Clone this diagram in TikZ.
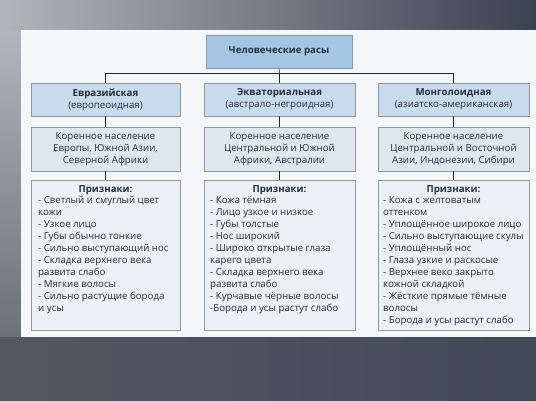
\documentclass[tikz,border=0pt]{standalone}
\usepackage{fontspec}
\setmainfont{Open Sans}
\definecolor{bgL}{HTML}{B2B5BA}
\definecolor{bgM}{HTML}{8C9096}
\definecolor{bgR}{HTML}{3A4150}
\definecolor{btL}{HTML}{535862}
\definecolor{btM}{HTML}{6F747C}
\definecolor{btR}{HTML}{424958}
\definecolor{lsB}{HTML}{6C7077}
\definecolor{panel}{HTML}{F6F7F8}
\definecolor{topfill}{HTML}{A3C6E5}
\definecolor{rowone}{HTML}{C8DBEC}
\definecolor{rowtwo}{HTML}{DEE6EE}
\definecolor{rowthree}{HTML}{EDF0F4}
\definecolor{boxline}{HTML}{8E98A3}
\definecolor{txtcol}{HTML}{27303D}
\begin{document}
\begin{tikzpicture}[x=1pt,y=-1pt,
  box/.style={draw=boxline, line width=0.8pt, inner sep=0pt, align=center,
    text=txtcol, font=\fontsize{9.7}{12.2}\selectfont},
  lst/.style={inner sep=0pt, align=left, text=txtcol, anchor=north west,
    font=\fontsize{9.7}{12}\selectfont},
  head/.style={inner sep=0pt, text=txtcol, font=\fontsize{9.7}{12}\selectfont\bfseries},
  con/.style={draw=black!85, line width=0.6pt}]
\useasboundingbox (0,0) rectangle (536,400);
\shade[left color=bgL, middle color=bgM, right color=bgR] (0,0) rectangle (536,30);
\shade[top color=bgL, bottom color=lsB] (0,30) rectangle (21,337);
\shade[left color=btL, middle color=btM, right color=btR] (0,337) rectangle (536,400);
\fill[panel] (21,30) rectangle (536,337);

\node[box, fill=topfill, minimum width=146pt, minimum height=33pt] (top) at (279,51.5) {\bfseries Человеческие расы};

\node[box, fill=rowone, minimum width=149pt, minimum height=33pt] (r1a) at (105.5,99.5) {\bfseries Евразийская\\(европеоидная)};
\node[box, fill=rowone, minimum width=151pt, minimum height=33pt] (r1b) at (279.5,99.5) {\bfseries Экваториальная\\(австрало-негроидная)};
\node[box, fill=rowone, minimum width=151pt, minimum height=33pt] (r1c) at (453.5,99.5) {\bfseries Монголоидная\\(азиатско-американская)};

\node[box, fill=rowtwo, minimum width=149pt, minimum height=44pt] (r2a) at (105.5,149) {Коренное население\\Европы, Южной Азии,\\Северной Африки};
\node[box, fill=rowtwo, minimum width=151pt, minimum height=44pt] (r2b) at (279.5,149) {Коренное население\\Центральной и Южной\\Африки, Австралии};
\node[box, fill=rowtwo, minimum width=151pt, minimum height=44pt] (r2c) at (453.5,149) {Коренное население\\Центральной и Восточной\\Азии, Индонезии, Сибири};

\node[box, fill=rowthree, minimum width=149pt, minimum height=150pt] (r3a) at (105.5,255) {};
\node[box, fill=rowthree, minimum width=151pt, minimum height=150pt] (r3b) at (279.5,255) {};
\node[box, fill=rowthree, minimum width=151pt, minimum height=150pt] (r3c) at (453.5,255) {};

\node[head] (h3a) at (105.5,190) {Признаки:};
\node[head] (h3b) at (279.5,190) {Признаки:};
\node[head] (h3c) at (453.5,190) {Признаки:};

\node[lst] (t3a) at (38,196) {- Светлый и смуглый цвет\\кожи\\- Узкое лицо\\- Губы обычно тонкие\\- Сильно выступающий нос\\- Складка верхнего века\\развита слабо\\- Мягкие волосы\\- Сильно растущие борода\\и усы};
\node[lst] (t3b) at (210,196) {- Кожа тёмная\\- Лицо узкое и низкое\\- Губы толстые\\- Нос широкий\\- Широко открытые глаза\\карего цвета\\- Складка верхнего века\\развита слабо\\- Курчавые чёрные волосы\\-Борода и усы растут слабо};
\node[lst] (t3c) at (383,196) {- Кожа с желтоватым\\оттенком\\- Уплощённое широкое лицо\\- Сильно выступающие скулы\\- Уплощённый нос\\- Глаза узкие и раскосые\\- Верхнее веко закрыто\\кожной складкой\\- Жёсткие прямые тёмные\\волосы\\- Борода и усы растут слабо};

\coordinate (hub) at (279.5,73);
\draw[con] (top.south) -- (hub);
\draw[con] (hub) -- (r1b.north);
\draw[con] (r1a.north) |- (hub);
\draw[con] (r1c.north) |- (hub);
\draw[con] (r1a.south) -- (r2a.north);
\draw[con] (r1b.south) -- (r2b.north);
\draw[con] (r1c.south) -- (r2c.north);
\draw[con] (r2a.south) -- (r3a.north);
\draw[con] (r2b.south) -- (r3b.north);
\draw[con] (r2c.south) -- (r3c.north);
\end{tikzpicture}
\end{document}
